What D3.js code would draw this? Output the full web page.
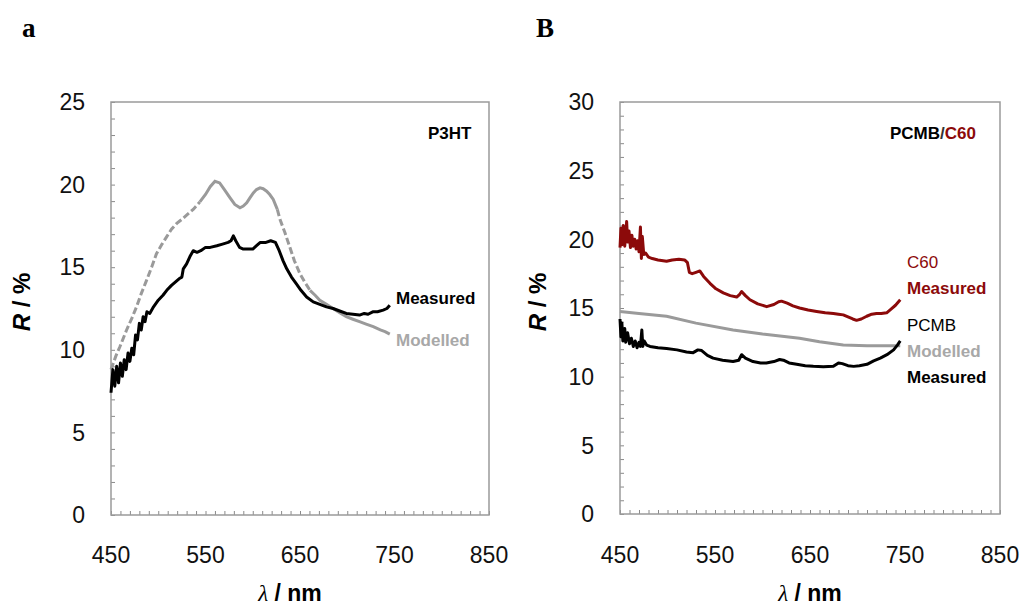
<!DOCTYPE html>
<html lang="en">
<head>
    <meta charset="UTF-8">
    <title>Reflectance spectra</title>
    <script src="https://d3js.org/d3.v7.min.js"></script>
    <style>
        body {
            margin: 0;
            background: #fff;
            font-family: 'Liberation Sans', Arial, sans-serif;
            overflow: hidden;
        }
    </style>
</head>
<body>
    <script>
        // wavelength axis (nm) shared by both panels
        const wavelengthTicks = [450, 550, 650, 750, 850];
        const p3htTicksR = [0, 5, 10, 15, 20, 25];
        const blendTicksR = [0, 5, 10, 15, 20, 25, 30];

        // panel a : P3HT  [wavelength, R %]
        const p3htMeasured = [
            [450, 7.4], [452, 8.8], [454, 7.8], [456, 9.0], [458, 8.0], [460, 9.2], [462, 8.4], [464, 9.4],
            [466, 8.8], [468, 9.8], [470, 9.3], [472, 10.1], [474, 9.7], [476, 10.9], [478, 10.6], [480, 11.6],
            [482, 11.2], [484, 12.0], [486, 11.7], [488, 12.3], [491, 12.2], [495, 12.6], [500, 13.0], [505, 13.3],
            [509, 13.6], [514, 13.9], [518, 14.1], [522, 14.3], [525, 14.4], [526.5, 14.9], [530, 15.2], [534, 15.7],
            [537, 16.0], [541, 15.9], [545, 16.0], [550, 16.2], [555, 16.2], [562, 16.3], [568, 16.4], [574, 16.5],
            [577, 16.6], [579.5, 16.9], [582, 16.6], [586, 16.2], [590, 16.1], [595, 16.1], [600, 16.1], [604, 16.3],
            [608, 16.5], [614, 16.5], [619, 16.6], [624, 16.5], [628, 16.0], [632, 15.4], [636, 14.9], [641, 14.4],
            [646, 14.0], [651, 13.6], [657, 13.2], [664, 12.9], [671, 12.75], [678, 12.6], [685, 12.5], [692, 12.35],
            [699, 12.2], [706, 12.15], [713, 12.1], [718, 12.2], [722, 12.15], [727, 12.3], [732, 12.3], [738, 12.4],
            [742, 12.5], [745, 12.7]
        ];
        const p3htModelled = [
            [450, 8.8], [455, 9.6], [459.5, 10.2], [466.5, 11.2], [472, 11.9], [477, 12.6], [482, 13.4], [487.6, 14.2],
            [493, 15.0], [498, 15.8], [504, 16.4], [509, 16.85], [514, 17.3], [519.6, 17.65], [525, 17.9], [530, 18.15],
            [537, 18.5], [544, 18.95], [550, 19.4], [555, 19.87], [560, 20.2], [565, 20.1], [570, 19.7], [576, 19.2],
            [581, 18.8], [586.5, 18.6], [590, 18.7], [593.6, 18.9], [597, 19.2], [600.6, 19.5], [604, 19.7], [607.7, 19.8],
            [611, 19.75], [614.7, 19.6], [618, 19.4], [621.7, 19.1], [626, 18.5], [628.8, 17.9], [634, 17.1], [639, 16.25],
            [644, 15.4], [650, 14.6], [655, 14.1], [660.6, 13.6], [666, 13.3], [671, 13.0], [678, 12.75], [685, 12.5],
            [692, 12.25], [699, 12.0], [706, 11.85], [713, 11.7], [720, 11.55], [727.5, 11.4], [735, 11.2], [740, 11.1],
            [745, 10.95]
        ];
        // stretches of the modelled curve drawn as a dashed line
        const p3htModelledDashed = [[450, 544], [626, 660.6]];

        // panel B : PCMB / C60
        const c60Measured = [
            [450, 19.4], [451, 20.8], [452, 19.6], [453.5, 21.0], [455, 19.5], [456, 20.4], [457, 21.3], [458, 19.8],
            [459.5, 20.6], [461, 19.4], [462.5, 20.3], [464, 19.5], [465.5, 20.0], [467, 19.3], [468.5, 19.9], [470, 19.1],
            [471.5, 20.9], [472.5, 18.6], [473.5, 20.2], [475, 18.9], [477, 19.0], [480, 18.7], [484, 18.6], [490, 18.5],
            [499, 18.4], [505, 18.5], [512, 18.55], [518, 18.5], [521, 18.3], [523, 17.6], [526, 17.5], [530, 17.6],
            [534, 17.7], [538, 17.3], [544.7, 16.8], [551, 16.4], [558.7, 16.1], [566, 15.9], [572.8, 15.8], [576, 16.0],
            [578, 16.2], [582, 15.9], [586.8, 15.6], [595, 15.3], [604.4, 15.1], [612, 15.25], [617, 15.45], [620, 15.5],
            [626, 15.35], [632, 15.15], [639, 15.0], [648, 14.85], [657, 14.75], [666, 14.65], [674.6, 14.6], [680, 14.55],
            [685, 14.5], [690, 14.35], [695, 14.2], [699, 14.1], [704, 14.2], [709.7, 14.4], [715, 14.55], [720, 14.6],
            [725, 14.6], [730.7, 14.65], [735, 14.9], [740, 15.2], [745, 15.6]
        ];
        const pcmbModelled = [
            [450, 14.75], [470, 14.6], [499, 14.4], [530, 13.9], [569, 13.4], [600, 13.1], [639, 12.8], [660, 12.55],
            [685, 12.3], [710, 12.25], [745, 12.25]
        ];
        const pcmbMeasured = [
            [450, 14.2], [451, 12.9], [452, 13.9], [453, 12.6], [455, 13.5], [456, 12.5], [458, 13.2], [460, 12.4],
            [462, 12.8], [464, 12.2], [466, 12.6], [468, 12.1], [470, 12.5], [471.5, 12.2], [473, 13.4], [474, 12.2],
            [475.5, 12.6], [478, 12.3], [481.6, 12.2], [490, 12.1], [499, 12.05], [510, 11.95], [520, 11.8], [527, 11.75],
            [532, 11.95], [536, 11.9], [542, 11.55], [548, 11.35], [558, 11.2], [569, 11.1], [575, 11.2], [578, 11.6],
            [582, 11.35], [590, 11.1], [598, 11.0], [604, 11.0], [612, 11.1], [618, 11.25], [622, 11.2], [628, 11.0],
            [636, 10.9], [645, 10.8], [653.5, 10.75], [664, 10.72], [674.6, 10.75], [680, 11.0], [684, 10.95], [690, 10.8],
            [696, 10.75], [702, 10.8], [710, 10.9], [717, 11.15], [724, 11.35], [731, 11.6], [738, 11.95], [742, 12.3],
            [745, 12.6]
        ];

        const black = "#000";
        const grey = "#9a9a9a";
        const darkRed = "#8c0a0a";

        const width = 1025;
        const height = 610;

        const svg = d3.select("body")
            .append("svg")
            .attr("width", width)
            .attr("height", height);

        const panels = [
            {
                letter: "a", letterX: 22,
                left: 111, right: 489, top: 102, bottom: 515,
                yMax: 25, yTicks: p3htTicksR, yTitleX: 21, xTitleX: 290,
                series: [
                    { data: p3htModelled, color: grey, dashed: p3htModelledDashed },
                    { data: p3htMeasured, color: black }
                ],
                header: [{ text: "P3HT", color: black }], headerX: 428,
                notes: [
                    { text: "Measured", color: black, bold: true, x: 396, y: 298 },
                    { text: "Modelled", color: "#a8a8a8", bold: true, x: 396, y: 340 }
                ]
            },
            {
                letter: "B", letterX: 536,
                left: 620, right: 1000, top: 102, bottom: 514,
                yMax: 30, yTicks: blendTicksR, yTitleX: 537, xTitleX: 810,
                series: [
                    { data: c60Measured, color: darkRed },
                    { data: pcmbModelled, color: grey },
                    { data: pcmbMeasured, color: black }
                ],
                header: [{ text: "PCMB", color: black }, { text: "/", color: "#333" }, { text: "C60", color: darkRed }],
                headerX: 890,
                notes: [
                    { text: "C60", color: darkRed, bold: false, x: 907, y: 262 },
                    { text: "Measured", color: darkRed, bold: true, x: 907, y: 288 },
                    { text: "PCMB", color: black, bold: false, x: 907, y: 325 },
                    { text: "Modelled", color: "#a8a8a8", bold: true, x: 907, y: 351 },
                    { text: "Measured", color: black, bold: true, x: 907, y: 377 }
                ]
            }
        ];

        panels.forEach(p => {
            const x = d3.scaleLinear().domain([450, 850]).range([p.left, p.right]);
            const y = d3.scaleLinear().domain([0, p.yMax]).range([p.bottom, p.top]);
            const g = svg.append("g");

            // panel letter
            svg.append("text")
                .attr("x", p.letterX).attr("y", 37)
                .style("font-family", "'Liberation Serif', 'Times New Roman', serif")
                .style("font-weight", "bold")
                .style("font-size", "27px")
                .text(p.letter);

            // minor ticks inside the frame
            g.append("g")
                .attr("transform", `translate(0,${p.bottom})`)
                .call(d3.axisTop(x).ticks(40).tickSize(4).tickFormat(""))
                .call(a => a.select(".domain").remove())
                .selectAll("line").attr("stroke", "#8a8a8a");
            g.append("g")
                .attr("transform", `translate(${p.left},0)`)
                .call(d3.axisRight(y).ticks(p.yMax).tickSize(4).tickFormat(""))
                .call(a => a.select(".domain").remove())
                .selectAll("line").attr("stroke", "#8a8a8a");

            // frame
            g.append("rect")
                .attr("x", p.left).attr("y", p.top)
                .attr("width", p.right - p.left).attr("height", p.bottom - p.top)
                .attr("fill", "none")
                .attr("stroke", "#9a9a9a")
                .attr("stroke-width", 1.5);

            // tick labels
            g.selectAll(".ylab").data(p.yTicks).join("text")
                .attr("x", p.left - 26)
                .attr("y", d => y(d))
                .attr("dy", "0.36em")
                .attr("text-anchor", "end")
                .style("font-size", "23px")
                .style("fill", "#111")
                .text(d => d);
            g.selectAll(".xlab").data(wavelengthTicks).join("text")
                .attr("x", d => x(d))
                .attr("y", 563)
                .attr("text-anchor", "middle")
                .style("font-size", "23px")
                .style("fill", "#111")
                .text(d => d);

            // axis titles
            const yt = g.append("text")
                .attr("transform", `translate(${p.yTitleX + 9},302) rotate(-90)`)
                .attr("text-anchor", "middle")
                .style("font-size", "24px")
                .style("font-weight", "bold");
            yt.append("tspan").style("font-style", "italic").text("R");
            yt.append("tspan").text(" / %");

            const xt = g.append("text")
                .attr("x", p.xTitleX)
                .attr("y", 601)
                .attr("text-anchor", "middle")
                .style("font-size", "23px");
            xt.append("tspan")
                .style("font-family", "'Liberation Serif', 'Times New Roman', serif")
                .style("font-style", "italic")
                .text("λ");
            xt.append("tspan").style("font-weight", "bold").text(" / nm");

            // curves
            const line = d3.line().x(d => x(d[0])).y(d => y(d[1]));
            p.series.forEach(s => {
                if (s.dashed) {
                    const inDash = d => s.dashed.some(r => d[0] >= r[0] && d[0] <= r[1]);
                    const outDash = d => s.dashed.every(r => d[0] <= r[0] || d[0] >= r[1]);
                    g.append("path")
                        .attr("d", line.defined(outDash)(s.data))
                        .attr("fill", "none").attr("stroke", s.color)
                        .attr("stroke-width", 3);
                    g.append("path")
                        .attr("d", line.defined(inDash)(s.data))
                        .attr("fill", "none").attr("stroke", s.color)
                        .attr("stroke-width", 3)
                        .attr("stroke-dasharray", "7,3");
                    line.defined(() => true);
                } else {
                    g.append("path")
                        .attr("d", line(s.data))
                        .attr("fill", "none").attr("stroke", s.color)
                        .attr("stroke-width", 3)
                        .attr("stroke-linejoin", "round");
                }
            });

            // header label and curve notes
            const h = g.append("text")
                .attr("x", p.headerX).attr("y", 139)
                .style("font-size", "17px")
                .style("font-weight", "bold");
            p.header.forEach(part => h.append("tspan").style("fill", part.color).text(part.text));

            g.selectAll(".note").data(p.notes).join("text")
                .attr("x", d => d.x)
                .attr("y", d => d.y)
                .attr("dy", "0.36em")
                .style("font-size", "17px")
                .style("font-weight", d => d.bold ? "bold" : "normal")
                .style("fill", d => d.color)
                .text(d => d.text);
        });
    </script>
</body>
</html>
